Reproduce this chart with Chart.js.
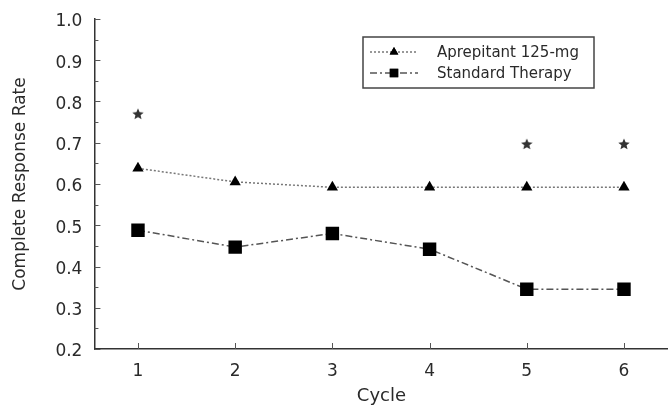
<!DOCTYPE html>
<html>
<head>
<meta charset="utf-8">
<script src="https://cdn.jsdelivr.net/npm/chart.js@4/dist/chart.umd.min.js"></script>
<style>
  html, body { margin: 0; padding: 0; background: #fff; overflow: hidden; }
  #wrap { width: 678px; height: 407px; }
</style>
</head>
<body>
<div id="wrap"><canvas id="crChart"></canvas></div>
<script>
// values
const cycles = [1, 2, 3, 4, 5, 6];
const aprepitant = [0.638, 0.605, 0.592, 0.592, 0.592, 0.592];
const standard = [0.488, 0.447, 0.480, 0.442, 0.345, 0.345];
const starCycles = [1, 5, 6];
const starValues = [0.770, 0.697, 0.697];
const yTicks = [0.2, 0.3, 0.4, 0.5, 0.6, 0.7, 0.8, 0.9, 1.0];

const ink = '#2a2a2a';
const face = '"DejaVu Sans", "Liberation Sans", sans-serif';

// small filled star used to flag significant cycles
function makeStar(size) {
    const c = document.createElement('canvas');
    c.width = size; c.height = size;
    const g = c.getContext('2d');
    const r = size / 2, ri = r * 0.45;
    g.beginPath();
    for (let i = 0; i < 10; i++) {
        const rad = i % 2 === 0 ? r : ri;
        const a = -Math.PI / 2 + i * Math.PI / 5;
        const px = r + rad * Math.cos(a), py = r + 0.5 + rad * Math.sin(a);
        if (i === 0) g.moveTo(px, py); else g.lineTo(px, py);
    }
    g.closePath();
    g.fillStyle = '#333';
    g.fill();
    return c;
}

// inward ticks (major + minor on y)
const innerTicks = {
    id: 'innerTicks',
    afterDraw(chart) {
        const ctx = chart.ctx;
        const xs = chart.scales.x, ys = chart.scales.y;
        const left = chart.chartArea.left, bottom = chart.chartArea.bottom;
        ctx.save();
        ctx.strokeStyle = '#555';
        ctx.lineWidth = 1;
        for (let v = 0.2; v <= 1.0001; v += 0.05) {
            const y = Math.round(ys.getPixelForValue(v)) + 0.5;
            const major = Math.abs(v * 10 - Math.round(v * 10)) < 0.01;
            ctx.beginPath();
            ctx.moveTo(left, y);
            ctx.lineTo(left + (major ? 6 : 4), y);
            ctx.stroke();
        }
        cycles.forEach(c => {
            const x = Math.round(xs.getPixelForValue(c)) + 0.5;
            ctx.beginPath();
            ctx.moveTo(x, bottom);
            ctx.lineTo(x, bottom - 6);
            ctx.stroke();
        });
        ctx.restore();
    }
};

// boxed legend in the upper right of the plot
const boxLegend = {
    id: 'boxLegend',
    afterDraw(chart) {
        const ctx = chart.ctx;
        const bx = 363, by = 37, bw = 231, bh = 51;
        ctx.save();
        ctx.strokeStyle = '#444';
        ctx.lineWidth = 1.5;
        ctx.strokeRect(bx, by, bw, bh);
        const rows = [0, 1];
        rows.forEach(i => {
            const ds = chart.data.datasets[i];
            const y = by + 15 + i * 21;
            ctx.strokeStyle = ds.borderColor;
            ctx.lineWidth = ds.borderWidth;
            ctx.setLineDash(ds.borderDash);
            ctx.beginPath();
            ctx.moveTo(bx + 7, y);
            ctx.lineTo(bx + 55, y);
            ctx.stroke();
            ctx.setLineDash([]);
            Chart.helpers.drawPoint(ctx, {
                pointStyle: ds.pointStyle,
                radius: i === 0 ? 5 : 6,
                borderWidth: 0
            }, bx + 31, y);
            ctx.fillStyle = '#000';
            ctx.fill();
            ctx.fillStyle = ink;
            ctx.font = '15px ' + face;
            ctx.textBaseline = 'middle';
            ctx.fillText(ds.label, bx + 74, y + 1);
        });
        ctx.restore();
    }
};

new Chart(document.getElementById('crChart'), {
    type: 'line',
    data: {
        datasets: [
            {
                label: 'Aprepitant 125-mg',
                data: cycles.map((c, i) => ({ x: c, y: aprepitant[i] })),
                borderColor: '#777',
                borderWidth: 1.5,
                borderDash: [2, 2],
                pointStyle: 'triangle',
                pointRadius: 6.5,
                pointBackgroundColor: '#000',
                pointBorderColor: '#000',
                pointBorderWidth: 0,
                tension: 0
            },
            {
                label: 'Standard Therapy',
                data: cycles.map((c, i) => ({ x: c, y: standard[i] })),
                borderColor: '#555',
                borderWidth: 1.5,
                borderDash: [7, 3, 2, 3],
                pointStyle: 'rect',
                pointRadius: 9.5,
                pointBackgroundColor: '#000',
                pointBorderColor: '#000',
                pointBorderWidth: 0,
                tension: 0
            },
            {
                label: 'p < 0.05',
                data: starCycles.map((c, i) => ({ x: c, y: starValues[i] })),
                showLine: false,
                pointStyle: makeStar(12),
                pointRadius: 6
            }
        ]
    },
    options: {
        responsive: true,
        maintainAspectRatio: false,
        animation: false,
        layout: { padding: { top: 19, right: 0, left: 10, bottom: 0 } },
        plugins: {
            legend: { display: false },
            tooltip: { enabled: false }
        },
        scales: {
            x: {
                type: 'linear',
                min: 0.552,
                max: 6.458,
                grid: { display: false, drawTicks: false },
                border: { display: true, color: '#333', width: 1.5 },
                afterBuildTicks: axis => { axis.ticks = cycles.map(v => ({ value: v })); },
                ticks: {
                    color: ink,
                    padding: 12,
                    font: { family: face, size: 17 },
                    callback: v => String(v)
                },
                title: {
                    display: true,
                    text: 'Cycle',
                    color: ink,
                    padding: { top: -8, bottom: 0 },
                    font: { family: face, size: 18 }
                }
            },
            y: {
                min: 0.2,
                max: 1.0,
                grid: { display: false, drawTicks: false },
                border: { display: true, color: '#333', width: 1.5 },
                afterBuildTicks: axis => { axis.ticks = yTicks.map(v => ({ value: v })); },
                afterFit: axis => { axis.paddingTop = 0; axis.paddingBottom = 0; },
                ticks: {
                    color: ink,
                    padding: 12,
                    labelOffset: 3,
                    font: { family: face, size: 17 },
                    callback: v => v.toFixed(1)
                },
                title: {
                    display: true,
                    text: 'Complete Response Rate',
                    color: ink,
                    padding: { top: 0, bottom: 13 },
                    font: { family: face, size: 17 }
                }
            }
        }
    },
    plugins: [innerTicks, boxLegend]
});
</script>
</body>
</html>
